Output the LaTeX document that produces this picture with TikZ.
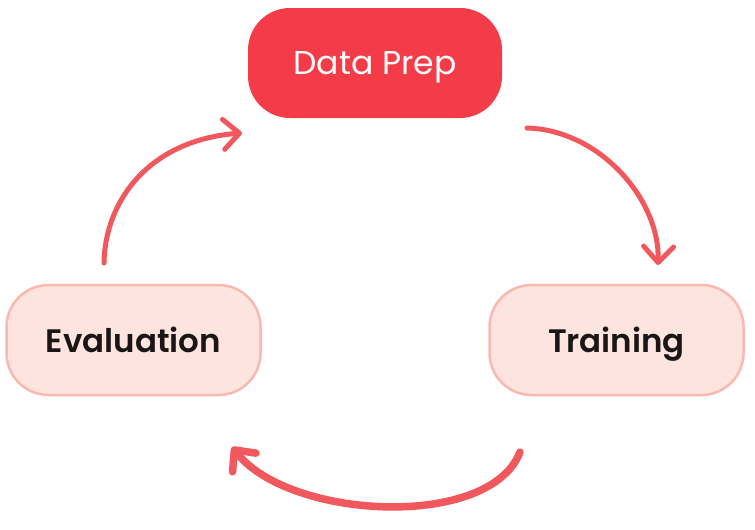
\documentclass[tikz,border=0pt]{standalone}
\usepackage{fontspec}
\setmainfont{Poppins}
\newfontfamily\semifont{Poppins SemiBold}
\usetikzlibrary{arrows.meta}
\definecolor{prepred}{RGB}{244,60,72}
\definecolor{stagefill}{RGB}{253,228,222}
\definecolor{stageline}{RGB}{249,184,176}
\definecolor{arrowred}{RGB}{241,88,94}
\definecolor{textdark}{RGB}{26,22,22}

\begin{document}
\begin{tikzpicture}[x=1pt,y=-1pt,
  box/.style={rounded corners=42pt,minimum width=254pt,minimum height=110pt,inner sep=0pt,text depth=0pt},
  prepbox/.style={box,fill=prepred,text=white,font=\fontsize{33}{39}\selectfont},
  stagebox/.style={box,fill=stagefill,draw=stageline,line width=2.5pt,text=textdark,font=\semifont\fontsize{32.5}{39}\selectfont},
  cyclearrow/.style={draw=arrowred,line cap=round,-{Straight Barb[length=16pt,width=30pt,round]}}]
  \useasboundingbox (0,0) rectangle (755,530);
  \node[prepbox] (prep) at (375,63) {Data Prep};
  \node[stagebox] (eval) at (133.5,340) {Evaluation};
  \node[stagebox] (train) at (616.5,340) {Training};
  % free ends of the curved arrows
  \coordinate (evaltail) at (104,263);
  \coordinate (preptip) at (242,133);
  \coordinate (preptail) at (527,128);
  \coordinate (traintip) at (658,265);
  \coordinate (traintail) at (520,452);
  \coordinate (evaltip) at (232,447);
  \draw[cyclearrow,line width=5pt] (evaltail) .. controls (105,200) and (150,140) .. (preptip);
  \draw[cyclearrow,line width=5pt] (preptail) .. controls (600,130) and (660,200) .. (traintip);
  \draw[cyclearrow,line width=7.5pt] (traintail) .. controls (490,530) and (290,520) .. (evaltip);
\end{tikzpicture}
\end{document}
